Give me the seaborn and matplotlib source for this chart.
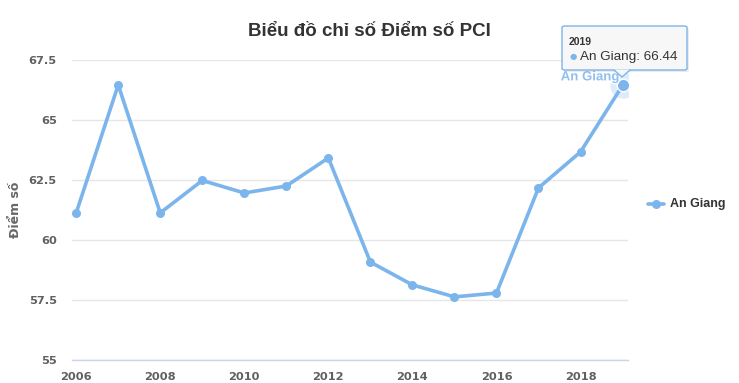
import matplotlib
matplotlib.use("Agg")
import matplotlib.pyplot as plt
import matplotlib.patheffects as pe
import seaborn as sns
import pandas as pd
from matplotlib.patches import FancyBboxPatch, Polygon

years = [2006, 2007, 2008, 2009, 2010, 2011, 2012, 2013, 2014, 2015, 2016, 2017, 2018, 2019]
scores = [61.13, 66.46, 61.13, 62.48, 61.96, 62.25, 63.42, 59.08, 58.13, 57.63, 57.79, 62.17, 63.67, 66.44]
series_name = "An Giang"
title = "Biểu đồ chỉ số Điểm số PCI"
y_label = "Điểm số"
y_ticks = [55, 57.5, 60, 62.5, 65, 67.5]
y_tick_labels = ["55", "57.5", "60", "62.5", "65", "67.5"]
x_ticks = [2006, 2008, 2010, 2012, 2014, 2016, 2018]

W, H = 739, 383
sns.set_style("white")
plt.rcParams['font.family'] = ['Liberation Sans', 'DejaVu Sans']

fig = plt.figure(figsize=(W / 100, H / 100), dpi=100)
L, R, T, B = 72, 628, 60, 360
ax = fig.add_axes([L / W, 1 - B / H, (R - L) / W, (B - T) / H])

df = pd.DataFrame({"year": years, "score": scores, "series": series_name})
color = "#7cb5ec"
sns.lineplot(data=df, x="year", y="score", ax=ax, color=color, linewidth=2.6,
             marker="o", markersize=6.5, markeredgewidth=0, legend=False)

ax.set_xlim(2006 - 0.1, 2019.13)
ax.set_ylim(55, 67.5)
ax.set_yticks(y_ticks)
ax.set_yticklabels(y_tick_labels)
ax.set_xticks(x_ticks)
ax.set_xticklabels([str(x) for x in x_ticks])
for s in ["top", "right", "left"]:
    ax.spines[s].set_visible(False)
ax.spines["bottom"].set_color("#ccd6eb")
ax.spines["bottom"].set_linewidth(1)
ax.grid(axis="y", color="#e6e6e6", linewidth=1)
ax.set_axisbelow(True)
ax.tick_params(axis="x", length=7, width=1, color="#ccd6eb", direction="out", pad=2)
ax.tick_params(axis="y", length=0, pad=11)
for lab in ax.get_xticklabels() + ax.get_yticklabels():
    lab.set_fontfamily("DejaVu Sans")
    lab.set_fontweight("bold")
    lab.set_fontsize(8.2)
    lab.set_color("#606060")
ax.set_xlabel("")
ax.set_ylabel(y_label, fontsize=9, fontweight="bold", color="#666666",
              fontfamily="DejaVu Sans")
ax.yaxis.set_label_coords((22 - L) / (R - L), 0.5)

# hovered last point
ax.plot([years[-1]], [scores[-1]], "o", color=color, alpha=0.25, markersize=19, markeredgewidth=0, zorder=4)
ax.plot([years[-1]], [scores[-1]], "o", color=color, markersize=9, markeredgewidth=1, markeredgecolor="white", zorder=5)
ax.annotate(series_name, (years[-1], scores[-1]), xytext=(-2, 1.5), textcoords="offset points",
            ha="right", va="bottom", color="#8fc0ef", fontsize=9.5, fontweight="bold", zorder=6,
            path_effects=[pe.withStroke(linewidth=2, foreground="white")])

fig.suptitle(title, x=0.5, y=1 - 32 / H, va="center", fontsize=13.5, fontweight="bold", color="#333333")

def fx(px):
    return px / W

def fy(py):
    return 1 - py / H

# legend
fig.add_artist(plt.Line2D([fx(648), fx(664)], [fy(204), fy(204)], color=color, linewidth=2.6,
                          transform=fig.transFigure))
fig.add_artist(plt.Line2D([fx(656)], [fy(204)], marker="o", markersize=6.5, color=color,
                          markeredgewidth=0, transform=fig.transFigure))
fig.text(fx(670), fy(204), series_name, fontsize=9, fontweight="bold", color="#333333",
         va="center", ha="left")

# tooltip
bx0, by0, bx1, by1 = 562, 26, 687, 70
shadow = FancyBboxPatch((fx(bx0 + 2), fy(by1 + 2)), fx(bx1 - bx0), (by1 - by0) / H,
                        boxstyle="round,pad=0,rounding_size=0.004", transform=fig.transFigure,
                        facecolor="#000000", alpha=0.08, edgecolor="none", zorder=9)
fig.add_artist(shadow)
box = FancyBboxPatch((fx(bx0), fy(by1)), fx(bx1 - bx0), (by1 - by0) / H,
                     boxstyle="round,pad=0,rounding_size=0.004", transform=fig.transFigure,
                     facecolor="#f7f7f7", edgecolor=color, linewidth=1, zorder=10)
fig.add_artist(box)
ptr = Polygon([[fx(614), fy(by1 - 0.5)], [fx(622), fy(77)], [fx(630), fy(by1 - 0.5)]], closed=True,
              transform=fig.transFigure, facecolor="#f7f7f7", edgecolor="none", zorder=11)
fig.add_artist(ptr)
fig.add_artist(plt.Line2D([fx(614), fx(622), fx(630)], [fy(by1), fy(77), fy(by1)], color=color,
                          linewidth=1, transform=fig.transFigure, zorder=12))
fig.text(fx(569), fy(42), "2019", fontsize=7.5, fontweight="bold", color="#333333", va="center", ha="left", zorder=13)
fig.text(fx(570), fy(57), "●", fontsize=6, color=color, va="center", ha="left", zorder=13,
         fontfamily="DejaVu Sans")
fig.text(fx(580), fy(57), f"{series_name}: {scores[-1]:.2f}", fontsize=9.7, color="#333333",
         va="center", ha="left", zorder=13)

fig.savefig("out.png", dpi=100)
